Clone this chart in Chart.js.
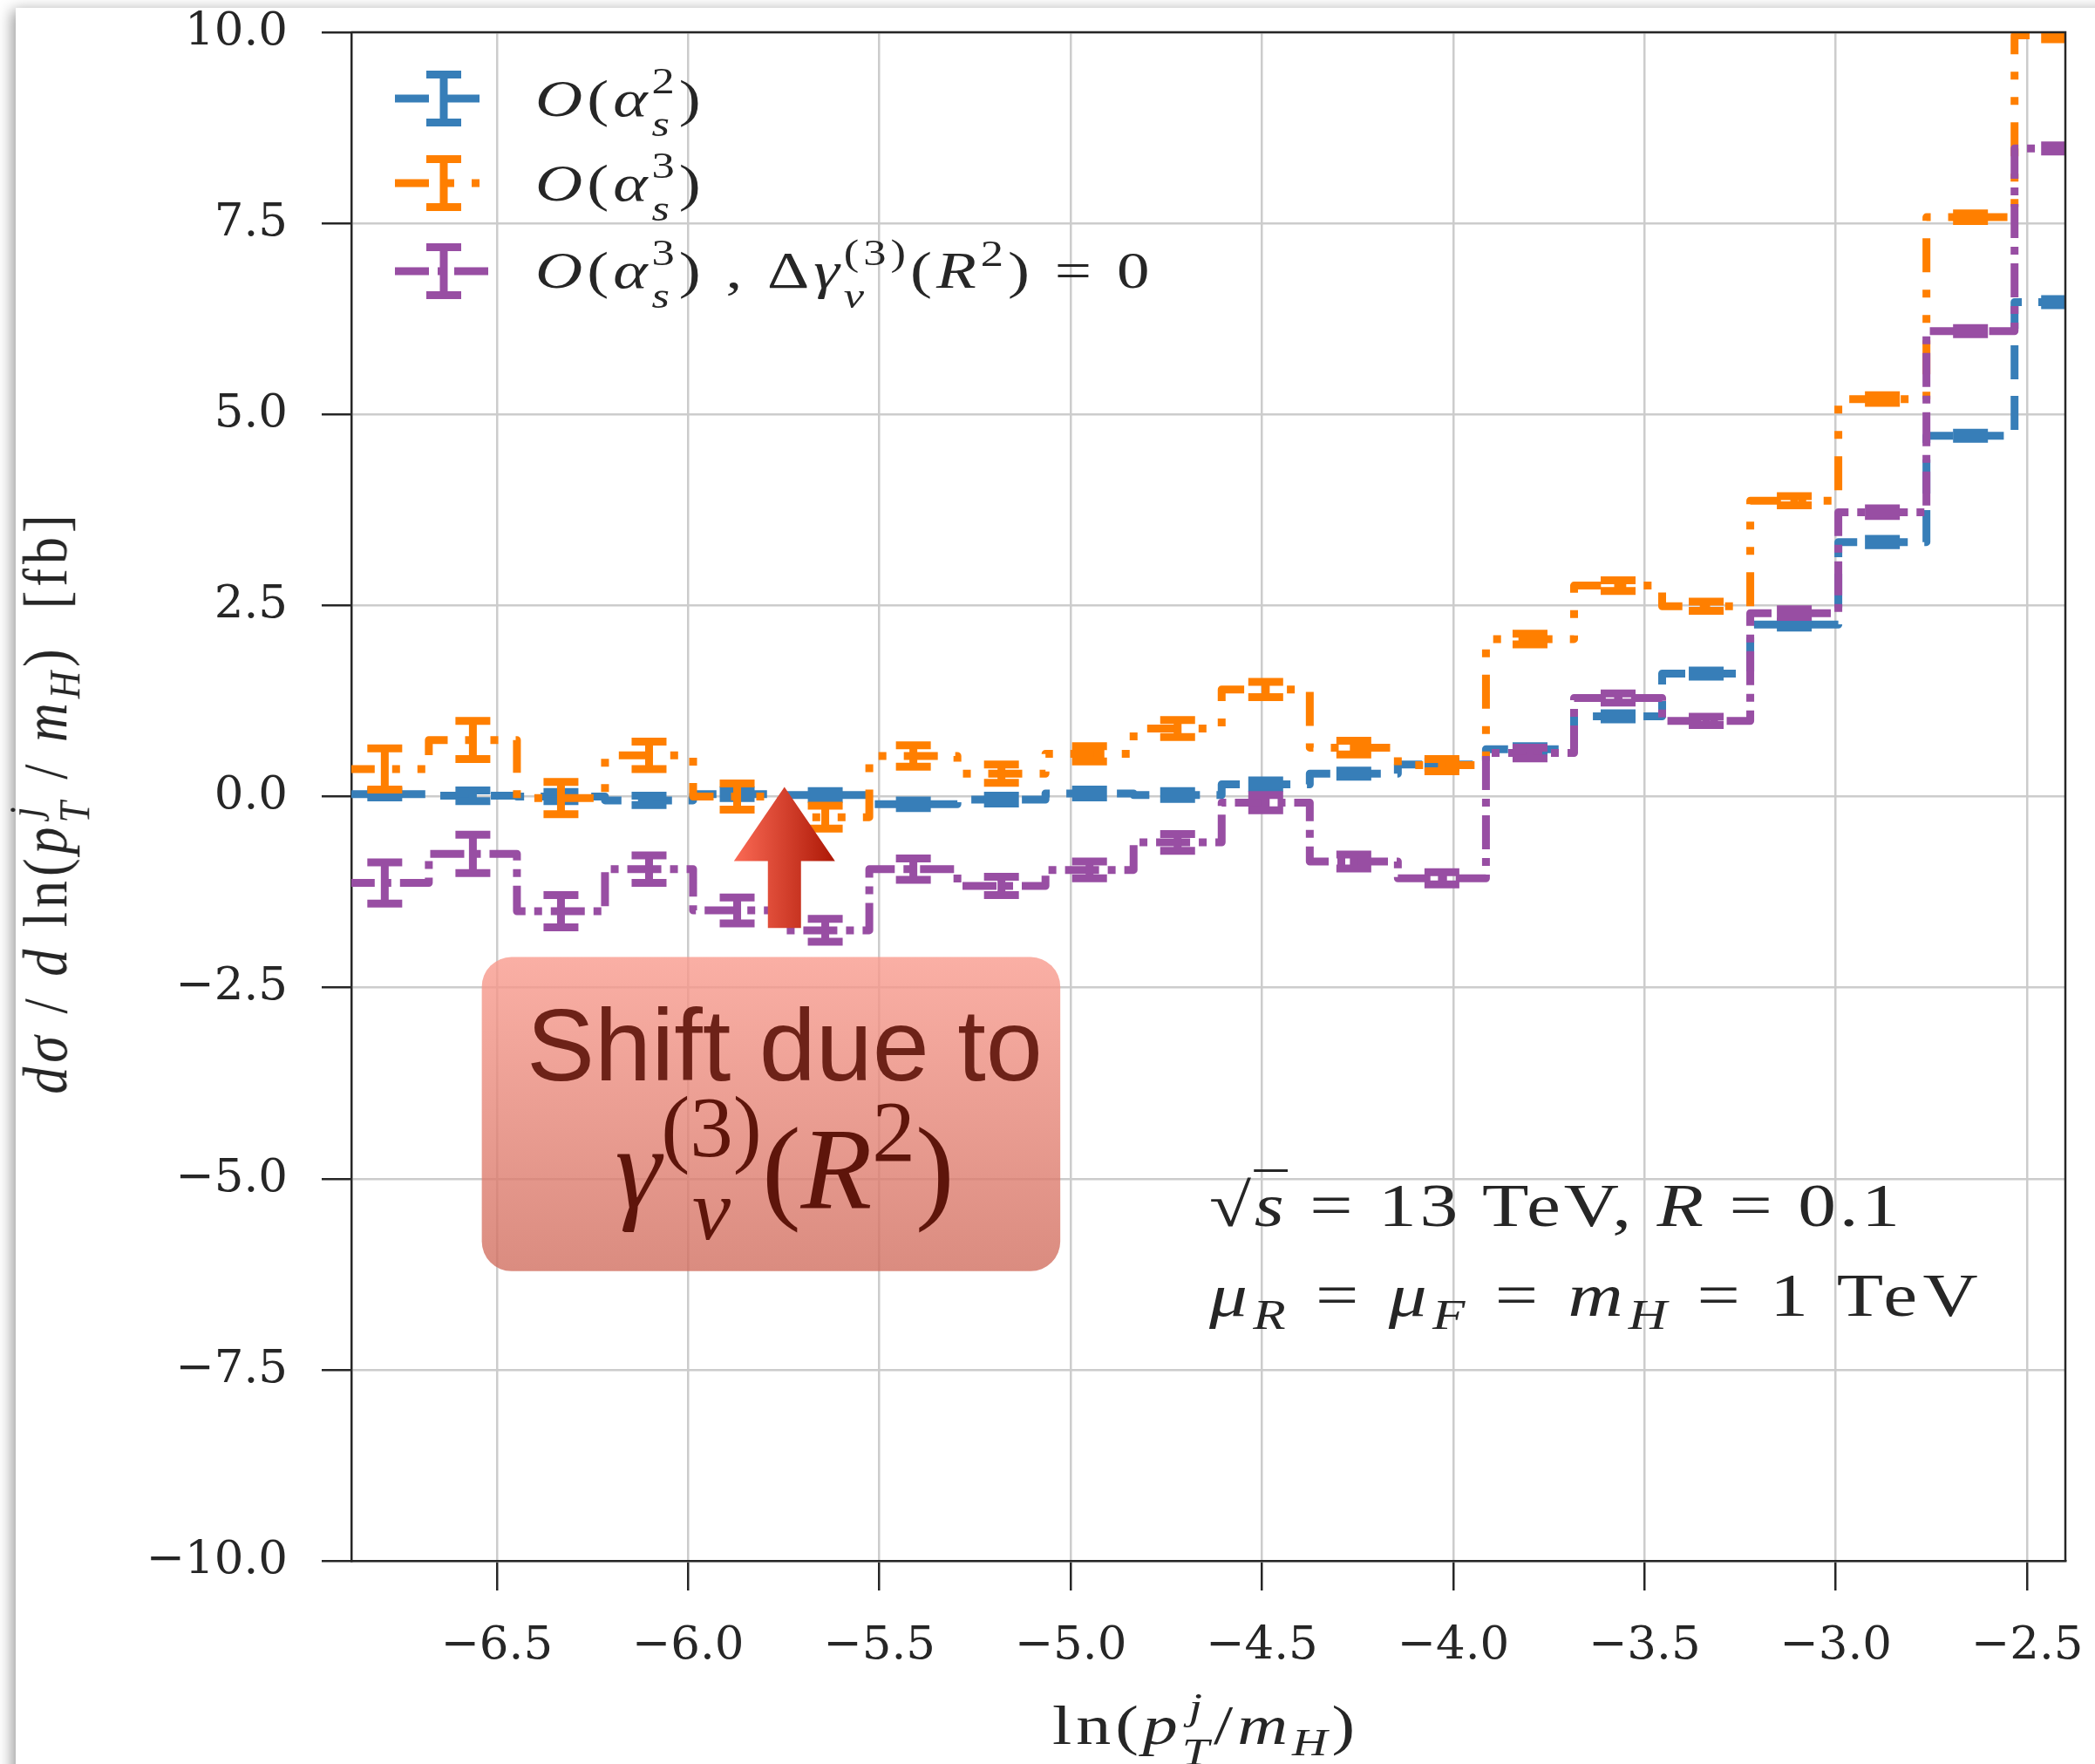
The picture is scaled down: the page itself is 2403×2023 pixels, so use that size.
<!DOCTYPE html>
<html>
<head>
<meta charset="utf-8">
<title>Shift due to gamma_nu(3)(R^2)</title>
<script src="https://cdn.jsdelivr.net/npm/chart.js@4.4.1/dist/chart.umd.min.js"></script>
<style>
  html, body { margin: 0; padding: 0; background: #fff; }
  #stage { position: relative; width: 2403px; height: 2023px; overflow: hidden; background: #fff; }
  #page { position: absolute; left: 18px; top: 9px; width: 2600px; height: 2200px; background: #fff;
          box-shadow: -4px 3px 16px rgba(0,0,0,0.4); }
  #chart { position: absolute; left: 0; top: 0; }
  .tx { position: absolute; white-space: nowrap; line-height: 0; color: #262626;
        font-family: "Liberation Serif", "DejaVu Serif", serif; }
  .cm { transform: scaleX(1.25); transform-origin: 0 0; letter-spacing: 4px; }
  .ss { display: inline-grid; line-height: 0; }
  .ss > span { grid-area: 1 / 1; position: relative; font-size: 0.7em; line-height: 0; }
  .ss > .u { top: -0.62em; }
  .ss > .d { top: 0.54em; }
  .sb { position: relative; font-size: 0.7em; top: 0.3em; }
  .sp { position: relative; font-size: 0.7em; top: -0.6em; }
  .ol { border-top: 3px solid #262626; }
  .shift { font-family: "Liberation Sans", Arial, sans-serif; color: #6d2218; text-align: center; width: 800px; }
  .gam { color: #5e150b; text-align: center; width: 800px; }
  .gam .ss > .u { top: -0.6em; font-size: 0.74em; }
  .gam .ss > .d { top: 0.36em; font-size: 0.74em; }
  .gam .sp { font-size: 0.74em; top: -0.54em; }
</style>
</head>
<body>
<div id="stage">
  <div id="page"></div>
  <canvas id="chart" width="2403" height="2023"></canvas>

  <!-- legend labels -->
  <div class="tx cm" style="left:614px;top:113px;font-size:60px"><i>O</i>(<i>α</i><span class="ss"><span class="u">2</span><span class="d"><i>s</i></span></span>)</div>
  <div class="tx cm" style="left:614px;top:210px;font-size:60px"><i>O</i>(<i>α</i><span class="ss"><span class="u">3</span><span class="d"><i>s</i></span></span>)</div>
  <div class="tx cm" style="left:614px;top:310px;font-size:60px"><i>O</i>(<i>α</i><span class="ss"><span class="u">3</span><span class="d"><i>s</i></span></span>) , Δ<i>γ</i><span class="ss"><span class="u">(3)</span><span class="d"><i>ν</i></span></span>(<i>R</i><span class="sp">2</span>) = 0</div>

  <!-- run parameters -->
  <div class="tx cm" style="left:1387px;top:1383px;font-size:70px;letter-spacing:3px">√<span class="ol"><i>s</i></span> = 13 TeV, <i>R</i> = 0.1</div>
  <div class="tx cm" style="left:1387px;top:1486px;font-size:70px;letter-spacing:5px"><i>μ</i><span class="sb"><i>R</i></span> = <i>μ</i><span class="sb"><i>F</i></span> = <i>m</i><span class="sb"><i>H</i></span> = 1 TeV</div>

  <!-- annotation text -->
  <div class="tx shift" style="left:500px;top:1199px;font-size:117px">Shift due to</div>
  <div class="tx gam" style="left:500px;top:1340px;font-size:134px"><i>γ</i><span class="ss"><span class="u">(3)</span><span class="d"><i>ν</i></span></span>(<i>R</i><span class="sp">2</span>)</div>

  <!-- axis titles -->
  <div class="tx" style="left:983px;top:1979px;width:800px;text-align:center;font-size:64px;letter-spacing:4px;transform:scaleX(1.25);transform-origin:50% 0">ln(<i>p</i><span class="ss"><span class="u"><i>j</i></span><span class="d"><i>T</i></span></span>/<i>m</i><span class="sb"><i>H</i></span>)</div>
  <div class="tx" style="left:-398px;top:920px;width:900px;text-align:center;font-size:62px;letter-spacing:5px;transform:rotate(-90deg) scaleY(1.15);transform-origin:450px 0"><i>dσ</i> / <i>d</i> ln(<i>p</i><span class="ss"><span class="u"><i>j</i></span><span class="d"><i>T</i></span></span> / <i>m</i><span class="sb"><i>H</i></span>)&nbsp; [fb]</div>
</div>

<script>
// bin edges in ln(pT/mH), ten bins per decade of pT
const binEdges = [-6.9078, -6.6775, -6.4472, -6.2170, -5.9867, -5.7565, -5.5262, -5.2959, -5.0657, -4.8354,
                  -4.6052, -4.3749, -4.1447, -3.9144, -3.6841, -3.4539, -3.2236, -2.9934, -2.7631, -2.5328, -2.3026];

// O(as^2)
const nloValues = [0.03, 0.01, 0.00, -0.05, 0.03, 0.02, -0.10, -0.04, 0.04, 0.02,
                   0.16, 0.30, 0.42, 0.62, 1.05, 1.61, 2.25, 3.33, 4.72, 6.47];
const nloErrors = [0.04, 0.07, 0.06, 0.06, 0.05, 0.05, 0.05, 0.05, 0.05, 0.05,
                   0.05, 0.04, 0.04, 0.04, 0.04, 0.04, 0.04, 0.04, 0.04, 0.04];

// O(as^3)
const nnloValues = [0.36, 0.74, -0.02, 0.54, 0.00, -0.27, 0.53, 0.30, 0.56, 0.89,
                    1.40, 0.64, 0.41, 2.06, 2.76, 2.49, 3.87, 5.20, 7.58, 9.96];
const nnloErrors = [0.27, 0.25, 0.21, 0.18, 0.17, 0.15, 0.14, 0.12, 0.10, 0.11,
                    0.10, 0.09, 0.08, 0.07, 0.07, 0.06, 0.06, 0.05, 0.05, 0.05];

// O(as^3), delta gamma_nu^(3)(R^2) = 0
const noGammaValues = [-1.13, -0.75, -1.50, -0.95, -1.49, -1.75, -0.95, -1.17, -0.96, -0.60,
                       -0.08, -0.85, -1.07, 0.57, 1.29, 0.99, 2.40, 3.72, 6.09, 8.48];
const noGammaErrors = [0.27, 0.25, 0.21, 0.18, 0.17, 0.15, 0.14, 0.12, 0.11, 0.11,
                       0.10, 0.09, 0.08, 0.07, 0.06, 0.055, 0.05, 0.05, 0.04, 0.04];

const xTicks = [-6.5, -6.0, -5.5, -5.0, -4.5, -4.0, -3.5, -3.0, -2.5];
const yTicks = [-10, -7.5, -5, -2.5, 0, 2.5, 5, 7.5, 10];

// annotation (data coordinates)
const shiftBox = { x: [-6.539, -5.027], y: [-2.10, -6.21] };
const shiftArrow = { x: -5.748, from: -1.72, to: 0.125 };

const binCenters = binEdges.slice(0, -1).map((e, i) => (e + binEdges[i + 1]) / 2);

// histogram outline: value of bin i runs from edge i to edge i+1
function stepPoints(vals) {
    return binEdges.map((x, i) => ({ x: x, y: vals[Math.min(i, vals.length - 1)] }));
}

const LW = 9;
const ink = '#262626';

function tickLabel(v) {
    const s = Math.abs(v).toFixed(1);
    return v < 0 ? '\u2212' + s : s;
}

const errorBars = {
    id: 'errorBars',
    afterDatasetDraw(chart, args) {
        const ds = chart.data.datasets[args.index];
        if (!ds.errors) return;
        const { ctx, chartArea: a, scales: { x, y } } = chart;
        ctx.save();
        ctx.beginPath();
        ctx.rect(a.left, a.top, a.right - a.left, a.bottom - a.top);
        ctx.clip();
        ctx.strokeStyle = ds.borderColor;
        ctx.lineWidth = LW;
        ctx.lineCap = 'butt';
        ctx.setLineDash([]);
        ds.values.forEach((v, i) => {
            const px = x.getPixelForValue(binCenters[i]);
            const top = y.getPixelForValue(v + ds.errors[i]);
            const bot = y.getPixelForValue(v - ds.errors[i]);
            ctx.beginPath();
            ctx.moveTo(px, top); ctx.lineTo(px, bot);
            ctx.moveTo(px - 20, top); ctx.lineTo(px + 20, top);
            ctx.moveTo(px - 20, bot); ctx.lineTo(px + 20, bot);
            ctx.stroke();
        });
        ctx.restore();
    }
};

const decorations = {
    id: 'decorations',
    beforeDatasetsDraw(chart) {
        // rounded annotation box
        const { ctx, scales: { x, y } } = chart;
        const x0 = x.getPixelForValue(shiftBox.x[0]), x1 = x.getPixelForValue(shiftBox.x[1]);
        const y0 = y.getPixelForValue(shiftBox.y[0]), y1 = y.getPixelForValue(shiftBox.y[1]);
        const g = ctx.createLinearGradient(0, y0, 0, y1);
        g.addColorStop(0, 'rgba(249,155,142,0.8)');
        g.addColorStop(1, 'rgba(209,111,96,0.8)');
        ctx.save();
        ctx.fillStyle = g;
        ctx.beginPath();
        ctx.roundRect(x0, y0, x1 - x0, y1 - y0, 34);
        ctx.fill();
        ctx.restore();
    },
    afterDatasetsDraw(chart) {
        // arrow pointing to the shift
        const { ctx, scales: { x, y } } = chart;
        const cx = x.getPixelForValue(shiftArrow.x);
        const tip = y.getPixelForValue(shiftArrow.to);
        const tail = y.getPixelForValue(shiftArrow.from);
        const headLen = 85, headHalf = 58, shaftHalf = 19;
        const g = ctx.createLinearGradient(cx - headHalf, 0, cx + headHalf, 0);
        g.addColorStop(0, '#fb6a55');
        g.addColorStop(1, '#ad1806');
        ctx.save();
        ctx.fillStyle = g;
        ctx.beginPath();
        ctx.moveTo(cx, tip);
        ctx.lineTo(cx + headHalf, tip + headLen);
        ctx.lineTo(cx + shaftHalf, tip + headLen);
        ctx.lineTo(cx + shaftHalf, tail);
        ctx.lineTo(cx - shaftHalf, tail);
        ctx.lineTo(cx - shaftHalf, tip + headLen);
        ctx.lineTo(cx - headHalf, tip + headLen);
        ctx.closePath();
        ctx.fill();
        ctx.restore();
    },
    afterDraw(chart) {
        const { ctx, chartArea: a } = chart;
        ctx.save();
        // top and right spines
        ctx.strokeStyle = ink;
        ctx.lineWidth = 2.5;
        ctx.beginPath();
        ctx.moveTo(a.left, a.top); ctx.lineTo(a.right, a.top); ctx.lineTo(a.right, a.bottom);
        ctx.stroke();
        // legend handles: dashed line with error bar
        const rows = [113, 210, 311];
        chart.data.datasets.forEach((ds, i) => {
            const yc = rows[i];
            const xl = a.left + 50, xr = a.left + 162, xm = a.left + 106;
            ctx.strokeStyle = ds.borderColor;
            ctx.lineWidth = LW;
            ctx.lineCap = 'butt';
            ctx.setLineDash(ds.borderDash);
            ctx.beginPath();
            ctx.moveTo(xl, yc); ctx.lineTo(xr, yc);
            ctx.stroke();
            ctx.setLineDash([]);
            ctx.beginPath();
            ctx.moveTo(xm, yc - 27.5); ctx.lineTo(xm, yc + 27.5);
            ctx.moveTo(xm - 20, yc - 27.5); ctx.lineTo(xm + 20, yc - 27.5);
            ctx.moveTo(xm - 20, yc + 27.5); ctx.lineTo(xm + 20, yc + 27.5);
            ctx.stroke();
        });
        ctx.restore();
    }
};

new Chart(document.getElementById('chart'), {
    type: 'line',
    data: {
        datasets: [
            {
                label: 'O(as^2)',
                data: stepPoints(nloValues),
                values: nloValues,
                errors: nloErrors,
                borderColor: '#377eb8',
                borderDash: [39, 19],
                order: 3
            },
            {
                label: 'O(as^3)',
                data: stepPoints(nnloValues),
                values: nnloValues,
                errors: nnloErrors,
                borderColor: '#ff7f00',
                borderDash: [39, 20, 9, 20, 9, 20],
                order: 2
            },
            {
                label: 'O(as^3), dgamma(3)(R^2) = 0',
                data: stepPoints(noGammaValues),
                values: noGammaValues,
                errors: noGammaErrors,
                borderColor: '#984ea3',
                borderDash: [39, 10, 9, 10],
                order: 1
            }
        ]
    },
    options: {
        responsive: false,
        devicePixelRatio: 1,
        animation: false,
        events: [],
        layout: { padding: { top: 37, right: 34, bottom: 0, left: 0 } },
        datasets: {
            line: {
                stepped: 'before',
                borderWidth: LW,
                borderCapStyle: 'butt',
                borderJoinStyle: 'round',
                pointRadius: 0,
                fill: false
            }
        },
        plugins: {
            legend: { display: false },
            tooltip: { enabled: false }
        },
        scales: {
            x: {
                type: 'linear',
                min: -6.88,
                max: -2.40,
                afterBuildTicks: (s) => { s.ticks = xTicks.map(v => ({ value: v })); },
                afterFit: (s) => { s.height = 233; s.paddingLeft = 0; s.paddingRight = 0; },
                grid: { color: '#cccccc', lineWidth: 2.5, tickLength: 34, tickColor: ink, tickWidth: 2.5 },
                border: { display: true, color: ink, width: 2.5 },
                ticks: {
                    autoSkip: false, maxRotation: 0, padding: 32, color: ink,
                    font: { family: 'DejaVu Serif', size: 53 },
                    callback: tickLabel
                }
            },
            y: {
                type: 'linear',
                min: -10,
                max: 10,
                afterBuildTicks: (s) => { s.ticks = yTicks.map(v => ({ value: v })); },
                afterFit: (s) => { s.width = 403; s.paddingTop = 0; s.paddingBottom = 0; },
                grid: { color: '#cccccc', lineWidth: 2.5, tickLength: 34, tickColor: ink, tickWidth: 2.5 },
                border: { display: true, color: ink, width: 2.5 },
                ticks: {
                    padding: 39, color: ink,
                    font: { family: 'DejaVu Serif', size: 53 },
                    callback: tickLabel
                }
            }
        }
    },
    plugins: [errorBars, decorations]
});
</script>
</body>
</html>
